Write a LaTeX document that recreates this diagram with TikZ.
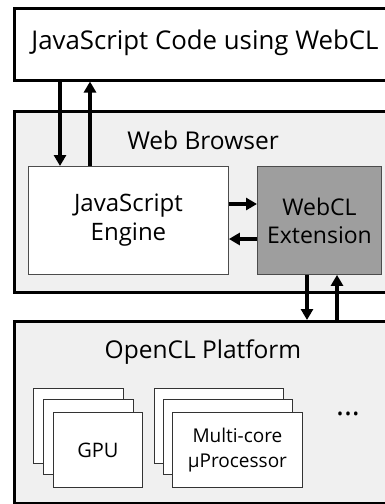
\documentclass[tikz,border=0pt]{standalone}
\usepackage{fontspec}
\setmainfont{Open Sans}
\usetikzlibrary{arrows.meta,calc}
\begin{document}
\begin{tikzpicture}[x=1pt,y=-1pt,
  outerbox/.style={draw=black, line width=2.5pt, anchor=north west, inner sep=0pt},
  innerbox/.style={draw=black!70, line width=0.9pt, anchor=north west, inner sep=0pt, align=center},
  card/.style={draw=black!80, line width=0.9pt, fill=white, anchor=north west, inner sep=0pt, align=center},
  arr/.style={line width=3.6pt, -{Triangle[width=12pt,length=11pt]}},
  title/.style={font=\fontsize{24.5}{28}\selectfont}
]
\clip (0,0) rectangle (385,504);
\fill[white] (0,0) rectangle (385,504);
% outer boxes
\node[outerbox, fill=white, minimum width=400pt, minimum height=72pt] (top) at (13,7) {};
\node[font=\fontsize{25.8}{30}\selectfont] (toptxt) at (205,43) {JavaScript Code using WebCL};
\node[outerbox, fill=black!6, minimum width=400pt, minimum height=181pt] (browser) at (13,110) {};
\node[title] (browsertxt) at (203,140) {Web Browser};
\node[outerbox, fill=black!6, minimum width=400pt, minimum height=182pt] (platform) at (13,320) {};
\node[title] (platformtxt) at (203,352) {OpenCL Platform};
% browser inner
\node[innerbox, fill=white, minimum width=200pt, minimum height=108pt, font=\fontsize{24}{29}\selectfont] (jse) at (28,166) {JavaScript\\Engine};
\node[innerbox, fill=black!38, minimum width=124pt, minimum height=108pt, font=\fontsize{23}{28}\selectfont] (ext) at (257,166) {WebCL\\Extension};
% device stacks
\node[card, minimum width=90pt, minimum height=75pt] (g1) at (33,388) {};
\node[card, minimum width=90pt, minimum height=75pt] (g2) at (43,399) {};
\node[card, minimum width=89pt, minimum height=75pt, font=\fontsize{20}{24}\selectfont] (g3) at (53,412) {GPU};
\node[card, minimum width=129pt, minimum height=75pt] (m1) at (154,388) {};
\node[card, minimum width=129pt, minimum height=75pt] (m2) at (163,399) {};
\node[card, minimum width=130pt, minimum height=75pt, font=\fontsize{19}{25}\selectfont] (m3) at (172,412) {Multi-core\\µProcessor};
\node[font=\fontsize{30}{32}\selectfont] (dots) at (348,414) {...};
% arrow columns
\coordinate (xa) at (60,0);
\coordinate (xb) at (90,0);
\coordinate (xc) at (307,0);
\coordinate (xd) at (337,0);
\coordinate (ya) at (0,204);
\coordinate (yb) at (0,239);
\draw[arr] (top.south -| xa) -- (jse.north -| xa);
\draw[arr] (jse.north -| xb) -- (top.south -| xb);
\draw[arr] (jse.east |- ya) -- (ext.west |- ya);
\draw[arr] (ext.west |- yb) -- (jse.east |- yb);
\draw[arr] (ext.south -| xc) -- (platform.north -| xc);
\draw[arr] (platform.north -| xd) -- (ext.south -| xd);
\end{tikzpicture}
\end{document}
